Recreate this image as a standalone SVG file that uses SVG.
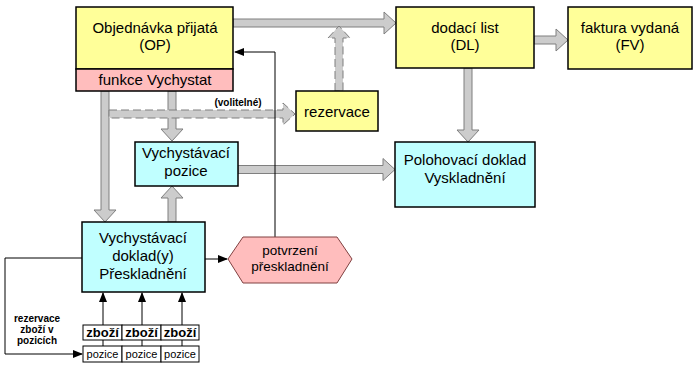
<svg xmlns="http://www.w3.org/2000/svg" width="699" height="369" viewBox="0 0 699 369">
<defs>
<marker id="ah" markerWidth="10" markerHeight="8" refX="9" refY="4" orient="auto" markerUnits="userSpaceOnUse">
<path d="M0,0 L10,4 L0,8 Z" fill="#000"/>
</marker>
<style>
.box{stroke:#000;stroke-width:1.5}
.y{fill:#ffff99}
.p{fill:#ffbdbd}
.c{fill:#c0ffff}
.t{font-family:"Liberation Sans",Arial,sans-serif;font-size:15px;text-anchor:middle;fill:#000}
.s{font-family:"Liberation Sans",Arial,sans-serif;font-size:13.5px;text-anchor:middle;fill:#000}
.z{font-family:"Liberation Sans",Arial,sans-serif;font-size:13px;font-weight:bold;text-anchor:middle;fill:#000}
.pz{font-family:"Liberation Sans",Arial,sans-serif;font-size:11px;text-anchor:middle;fill:#000}
.b{font-family:"Liberation Sans",Arial,sans-serif;font-size:10px;font-weight:bold;text-anchor:middle;fill:#000}
.ga{fill:#cccccc;stroke:#7f7f7f;stroke-width:1}
.gd{fill:#cccccc;stroke:#7f7f7f;stroke-width:1;stroke-dasharray:8,4}
.ln{fill:none;stroke:#000;stroke-width:1}
.cell{fill:#fff;stroke:#000;stroke-width:1}
</style>
</defs>
<rect width="699" height="369" fill="#fff"/>
<g id="connectors">
<path class="ga" d="M233,19 H384 V12 L396,23 L384,34 V27 H233 Z"/>
<path class="ga" d="M534,36 H556 V29 L568,40 L556,51 V44 H534 Z"/>
<path class="ga" d="M464,68 V130 H457 L468,142 L479,130 H472 V68 Z"/>
<path class="ga" d="M238,165.5 H383 V158.5 L395,169.5 L383,180.5 V173.5 H238 Z"/>
<path class="ga" d="M101,91 V210 H94 L105,222 L116,210 H109 V91 Z"/>
<path class="ga" d="M168,91 V129 H161 L172,141 L183,129 H176 V91 Z"/>
<path class="ga" d="M168,222 V198 H161 L172,186 L183,198 H176 V222 Z"/>
<path class="gd" d="M109,110 H283 V103 L295,114 L283,125 V118 H109 Z"/>
<path class="gd" d="M335,91 V38 H328 L339,26 L350,38 H343 V91 Z"/>
<path class="ln" d="M275,237 V52 H235" marker-end="url(#ah)"/>
<path class="ln" d="M205,259 H227" marker-end="url(#ah)"/>
<path class="ln" d="M82,258 H5 V354 H82" marker-end="url(#ah)"/>
<path class="ln" d="M103,346 V293" marker-end="url(#ah)"/>
<path class="ln" d="M142,346 V293" marker-end="url(#ah)"/>
<path class="ln" d="M182,346 V293" marker-end="url(#ah)"/>
<text class="b" x="238" y="106">(volitelné)</text>
<text class="b" x="37" y="322">rezervace</text>
<text class="b" x="37" y="333">zboží v</text>
<text class="b" x="37" y="344">pozicích</text>
</g>
<g id="op">
<rect class="box y" x="76" y="7" width="157" height="62"/>
<text class="t" x="155" y="33">Objednávka přijatá</text>
<text class="t" x="155" y="50">(OP)</text>
</g>
<g id="funkce">
<rect class="box p" x="76" y="69" width="157" height="22"/>
<text class="t" x="155" y="85">funkce Vychystat</text>
</g>
<g id="dl">
<rect class="box y" x="396" y="7" width="138" height="61"/>
<text class="t" x="465" y="33">dodací list</text>
<text class="t" x="465" y="50">(DL)</text>
</g>
<g id="fv">
<rect class="box y" x="568" y="7" width="124" height="62"/>
<text class="t" x="630" y="33">faktura vydaná</text>
<text class="t" x="630" y="50">(FV)</text>
</g>
<g id="rezervace">
<rect class="box y" x="296" y="91" width="82" height="40"/>
<text class="t" x="337" y="117">rezervace</text>
</g>
<g id="vpozice">
<rect class="box c" x="135" y="142" width="103" height="44"/>
<text class="t" x="186" y="158">Vychystávací</text>
<text class="t" x="186" y="176">pozice</text>
</g>
<g id="polohovaci">
<rect class="box c" x="395" y="142" width="140" height="65"/>
<text class="t" x="465" y="165">Polohovací doklad</text>
<text class="t" x="465" y="183">Vyskladnění</text>
</g>
<g id="vdoklad">
<rect class="box c" x="82" y="222" width="123" height="70"/>
<text class="t" x="143" y="243">Vychystávací</text>
<text class="t" x="143" y="261">doklad(y)</text>
<text class="t" x="143" y="279">Přeskladnění</text>
</g>
<g id="potvrzeni">
<polygon points="228,259 243,237 337,237 352,259 337,283 243,283" fill="#ffbdbd" stroke="#804040" stroke-width="1"/>
<text class="s" x="290" y="255">potvrzení</text>
<text class="s" x="290" y="271">přeskladnění</text>
</g>
<g id="zbozi1">
<rect class="cell" x="83" y="325" width="39" height="15"/>
<text class="z" x="102.5" y="337">zboží</text>
<rect class="cell" x="83" y="346" width="39" height="16"/>
<text class="pz" x="102.5" y="358">pozice</text>
</g>
<g id="zbozi2">
<rect class="cell" x="122" y="325" width="39" height="15"/>
<text class="z" x="141.5" y="337">zboží</text>
<rect class="cell" x="122" y="346" width="39" height="16"/>
<text class="pz" x="141.5" y="358">pozice</text>
</g>
<g id="zbozi3">
<rect class="cell" x="161" y="325" width="38" height="15"/>
<text class="z" x="180" y="337">zboží</text>
<rect class="cell" x="161" y="346" width="38" height="16"/>
<text class="pz" x="180" y="358">pozice</text>
</g>
</svg>
